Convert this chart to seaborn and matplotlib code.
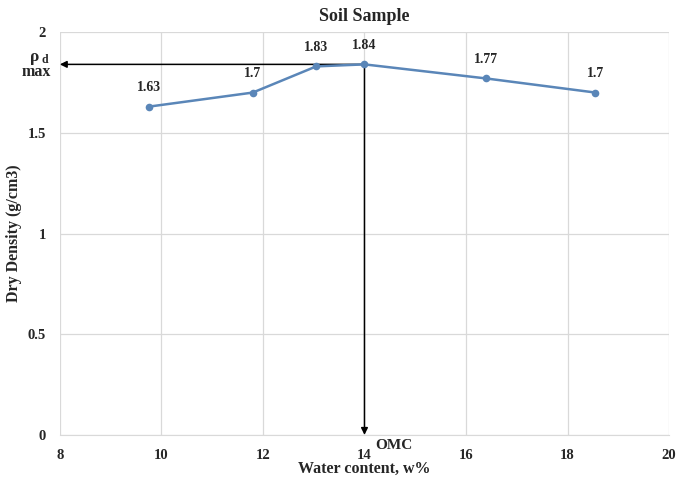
import pandas as pd
import matplotlib
matplotlib.use('Agg')
import matplotlib.pyplot as plt
import seaborn as sns

# Compaction test values
water_content = [9.75, 11.8, 13.05, 14.0, 16.4, 18.55]
dry_density = [1.63, 1.70, 1.83, 1.84, 1.77, 1.70]
point_labels = ['1.63', '1.7', '1.83', '1.84', '1.77', '1.7']
x_ticks = [8, 10, 12, 14, 16, 18, 20]
y_ticks = [0, 0.5, 1, 1.5, 2]
y_tick_labels = ['0', '0.5', '1', '1.5', '2']
omc = 14.0
rho_max = 1.84

df = pd.DataFrame({'w': water_content, 'rho': dry_density})

sns.set_style('whitegrid')
plt.rcParams['font.family'] = ['Liberation Serif', 'DejaVu Serif']
plt.rcParams['font.weight'] = 'bold'

fig = plt.figure(figsize=(6.8, 4.8), dpi=100)
ax = fig.add_axes([0.088, 0.094, 0.896, 0.839])

sns.lineplot(data=df, x='w', y='rho', ax=ax, color='#5a86b8', linewidth=1.8,
             marker='o', markersize=5.5, markeredgewidth=0, zorder=3)

for x, y, lab in zip(water_content, dry_density, point_labels):
    ax.annotate(lab, (x, y), xytext=(0, 9), textcoords='offset points',
                ha='center', va='bottom', fontsize=10, fontweight='bold')

# optimum moisture content arrows
ax.annotate('', xy=(8, rho_max), xytext=(omc, rho_max),
            arrowprops=dict(arrowstyle='-|>', color='black', lw=1.1,
                            mutation_scale=10, shrinkA=0, shrinkB=0),
            annotation_clip=False, zorder=2)
ax.annotate('', xy=(omc, 0), xytext=(omc, rho_max),
            arrowprops=dict(arrowstyle='-|>', color='black', lw=1.1,
                            mutation_scale=10, shrinkA=0, shrinkB=0),
            annotation_clip=False, zorder=2)

ax.text(0.051, 0.882, 'ρ', transform=fig.transFigure, fontsize=12.5,
        fontweight='bold', ha='center', va='center')
ax.text(0.066, 0.876, 'd', transform=fig.transFigure, fontsize=8.5,
        fontweight='bold', ha='center', va='center')
ax.text(0.053, 0.85, 'max', transform=fig.transFigure, fontsize=11.5,
        fontweight='bold', ha='center', va='center')
ax.annotate('OMC', (omc, 0), xytext=(8, -3), textcoords='offset points',
            ha='left', va='top', fontsize=11, fontweight='bold',
            annotation_clip=False)

ax.set_xlim(8, 20)
ax.set_ylim(0, 2)
ax.set_xticks(x_ticks)
ax.set_yticks(y_ticks)
ax.set_yticklabels(y_tick_labels)
ax.tick_params(axis='both', labelsize=10.5, length=0, pad=10)
for lbl in ax.get_xticklabels() + ax.get_yticklabels():
    lbl.set_fontweight('bold')
ax.grid(color='#d9d9d9', linewidth=0.9)
for side, sp in ax.spines.items():
    sp.set_visible(side in ('bottom',))
    sp.set_color('#d9d9d9')

ax.set_title('Soil Sample', fontsize=13, fontweight='bold', pad=8)
ax.set_xlabel('Water content, w%', fontsize=11.5, fontweight='bold', labelpad=-1)
ax.set_ylabel('Dry Density (g/cm3)', fontsize=11.5, fontweight='bold', labelpad=4)

fig.savefig('out.png', dpi=100)
